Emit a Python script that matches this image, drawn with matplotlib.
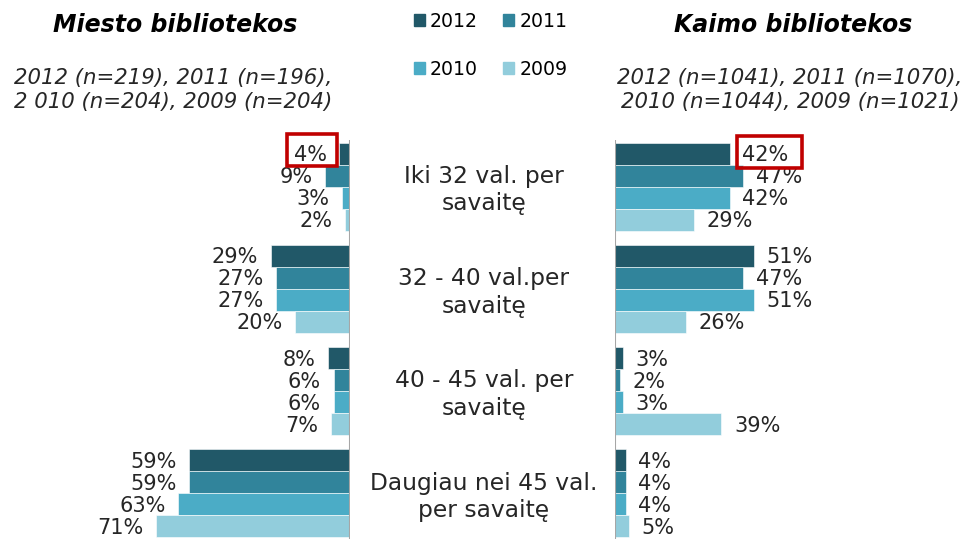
import numpy as np
import matplotlib
matplotlib.use("Agg")
import matplotlib.pyplot as plt
from matplotlib.patches import Patch, Rectangle
from matplotlib.transforms import blended_transform_factory

# categories (working hours per week)
categories = ["Iki 32 val. per\nsavaitę", "32 - 40 val.per\nsavaitę",
              "40 - 45 val. per\nsavaitę", "Daugiau nei 45 val.\nper savaitę"]
years = ["2012", "2011", "2010", "2009"]
colors = ["#215868", "#31849B", "#4BACC6", "#92CDDC"]

# percent values, one list per year, in category order
city_2012 = [4, 29, 8, 59]
city_2011 = [9, 27, 6, 59]
city_2010 = [3, 27, 6, 63]
city_2009 = [2, 20, 7, 71]

rural_2012 = [42, 51, 3, 4]
rural_2011 = [47, 47, 2, 4]
rural_2010 = [42, 51, 3, 4]
rural_2009 = [29, 26, 39, 5]

city = [city_2012, city_2011, city_2010, city_2009]
rural = [rural_2012, rural_2011, rural_2010, rural_2009]

W, H = 971, 539
fig = plt.figure(figsize=(W / 100, H / 100), dpi=100)

top_px, bot_px = 140, 539
axL = fig.add_axes([0, 1 - bot_px / H, 350 / W, (bot_px - top_px) / H])
axR = fig.add_axes([615 / W, 1 - bot_px / H, (W - 615) / W, (bot_px - top_px) / H])

bh = 0.215
y = np.arange(len(categories))
pxper = 2.73          # pixels per percent
pyx = bh / 22.0       # data units per pixel (vertical)
txt = "#262626"

for ax, data, side in [(axL, city, "L"), (axR, rural, "R")]:
    for j, (vals, c) in enumerate(zip(data, colors)):
        pos = y + (j - 1.5) * bh
        ax.barh(pos, vals, height=bh, color=c, edgecolor="white", linewidth=0.4)
        for i, (p, v) in enumerate(zip(pos, vals)):
            if side == "L":
                ax.annotate(f"{v}%", (v, p), xytext=(-9, -1), textcoords="offset points",
                            ha="right", va="center", fontsize=15, color=txt)
            else:
                ax.annotate(f"{v}%", (v, p), xytext=(9, -1), textcoords="offset points",
                            ha="left", va="center", fontsize=15, color=txt)
    ax.set_ylim(3.445, -0.455)
    for s in ax.spines.values():
        s.set_visible(False)
    ax.set_xticks([])
    ax.set_yticks([])
    ax.axvline(0, color="#A6A6A6", lw=1.5)

axL.set_xlim(350 / pxper, 0)
axR.set_xlim(0, (W - 615) / pxper)

# red highlight boxes around the first 2012 values
p0 = y[0] - 1.5 * bh
axL.add_patch(Rectangle((city_2012[0] + 2 / pxper, p0 - bh / 2 - 9 * pyx), 50 / pxper, 32 * pyx,
                        fill=False, ec="#C00000", lw=2.6, clip_on=False, zorder=5))
axR.add_patch(Rectangle((rural_2012[0] + 7 / pxper, p0 - bh / 2 - 7 * pyx), 65 / pxper, 32 * pyx,
                        fill=False, ec="#C00000", lw=2.6, clip_on=False, zorder=5))

# category labels in the middle
tr = blended_transform_factory(fig.transFigure, axL.transData)
for i, cat in enumerate(categories):
    fig.text(484 / W, y[i] + 0.035, cat, transform=tr, ha="center", va="center",
             fontsize=16.8, color=txt, linespacing=1.25)

# titles
fig.text(175 / W, 1 - 25 / H, "Miesto bibliotekos", ha="center", va="center",
         fontsize=17, fontweight="bold", fontstyle="italic")
fig.text(173 / W, 1 - 90 / H, "2012 (n=219), 2011 (n=196),\n2 010 (n=204), 2009 (n=204)",
         ha="center", va="center", fontsize=15.3, fontstyle="italic", color=txt,
         linespacing=1.3)
fig.text(793 / W, 1 - 25 / H, "Kaimo bibliotekos", ha="center", va="center",
         fontsize=17, fontweight="bold", fontstyle="italic")
fig.text(790 / W, 1 - 90 / H, "2012 (n=1041), 2011 (n=1070),\n2010 (n=1044), 2009 (n=1021)",
         ha="center", va="center", fontsize=15.3, fontstyle="italic", color=txt,
         linespacing=1.3)

# legend
handles = [Patch(color=c) for c in colors]
order = [0, 2, 1, 3]
fig.legend([handles[k] for k in order], [years[k] for k in order], ncol=2,
           loc="upper left", bbox_to_anchor=(406 / W, 1 - 4 / H), frameon=False,
           fontsize=13.6, handlelength=0.6, handleheight=0.6, handletextpad=0.25,
           columnspacing=1.35, labelspacing=1.55, borderaxespad=0)

fig.savefig("out.png", dpi=100)
